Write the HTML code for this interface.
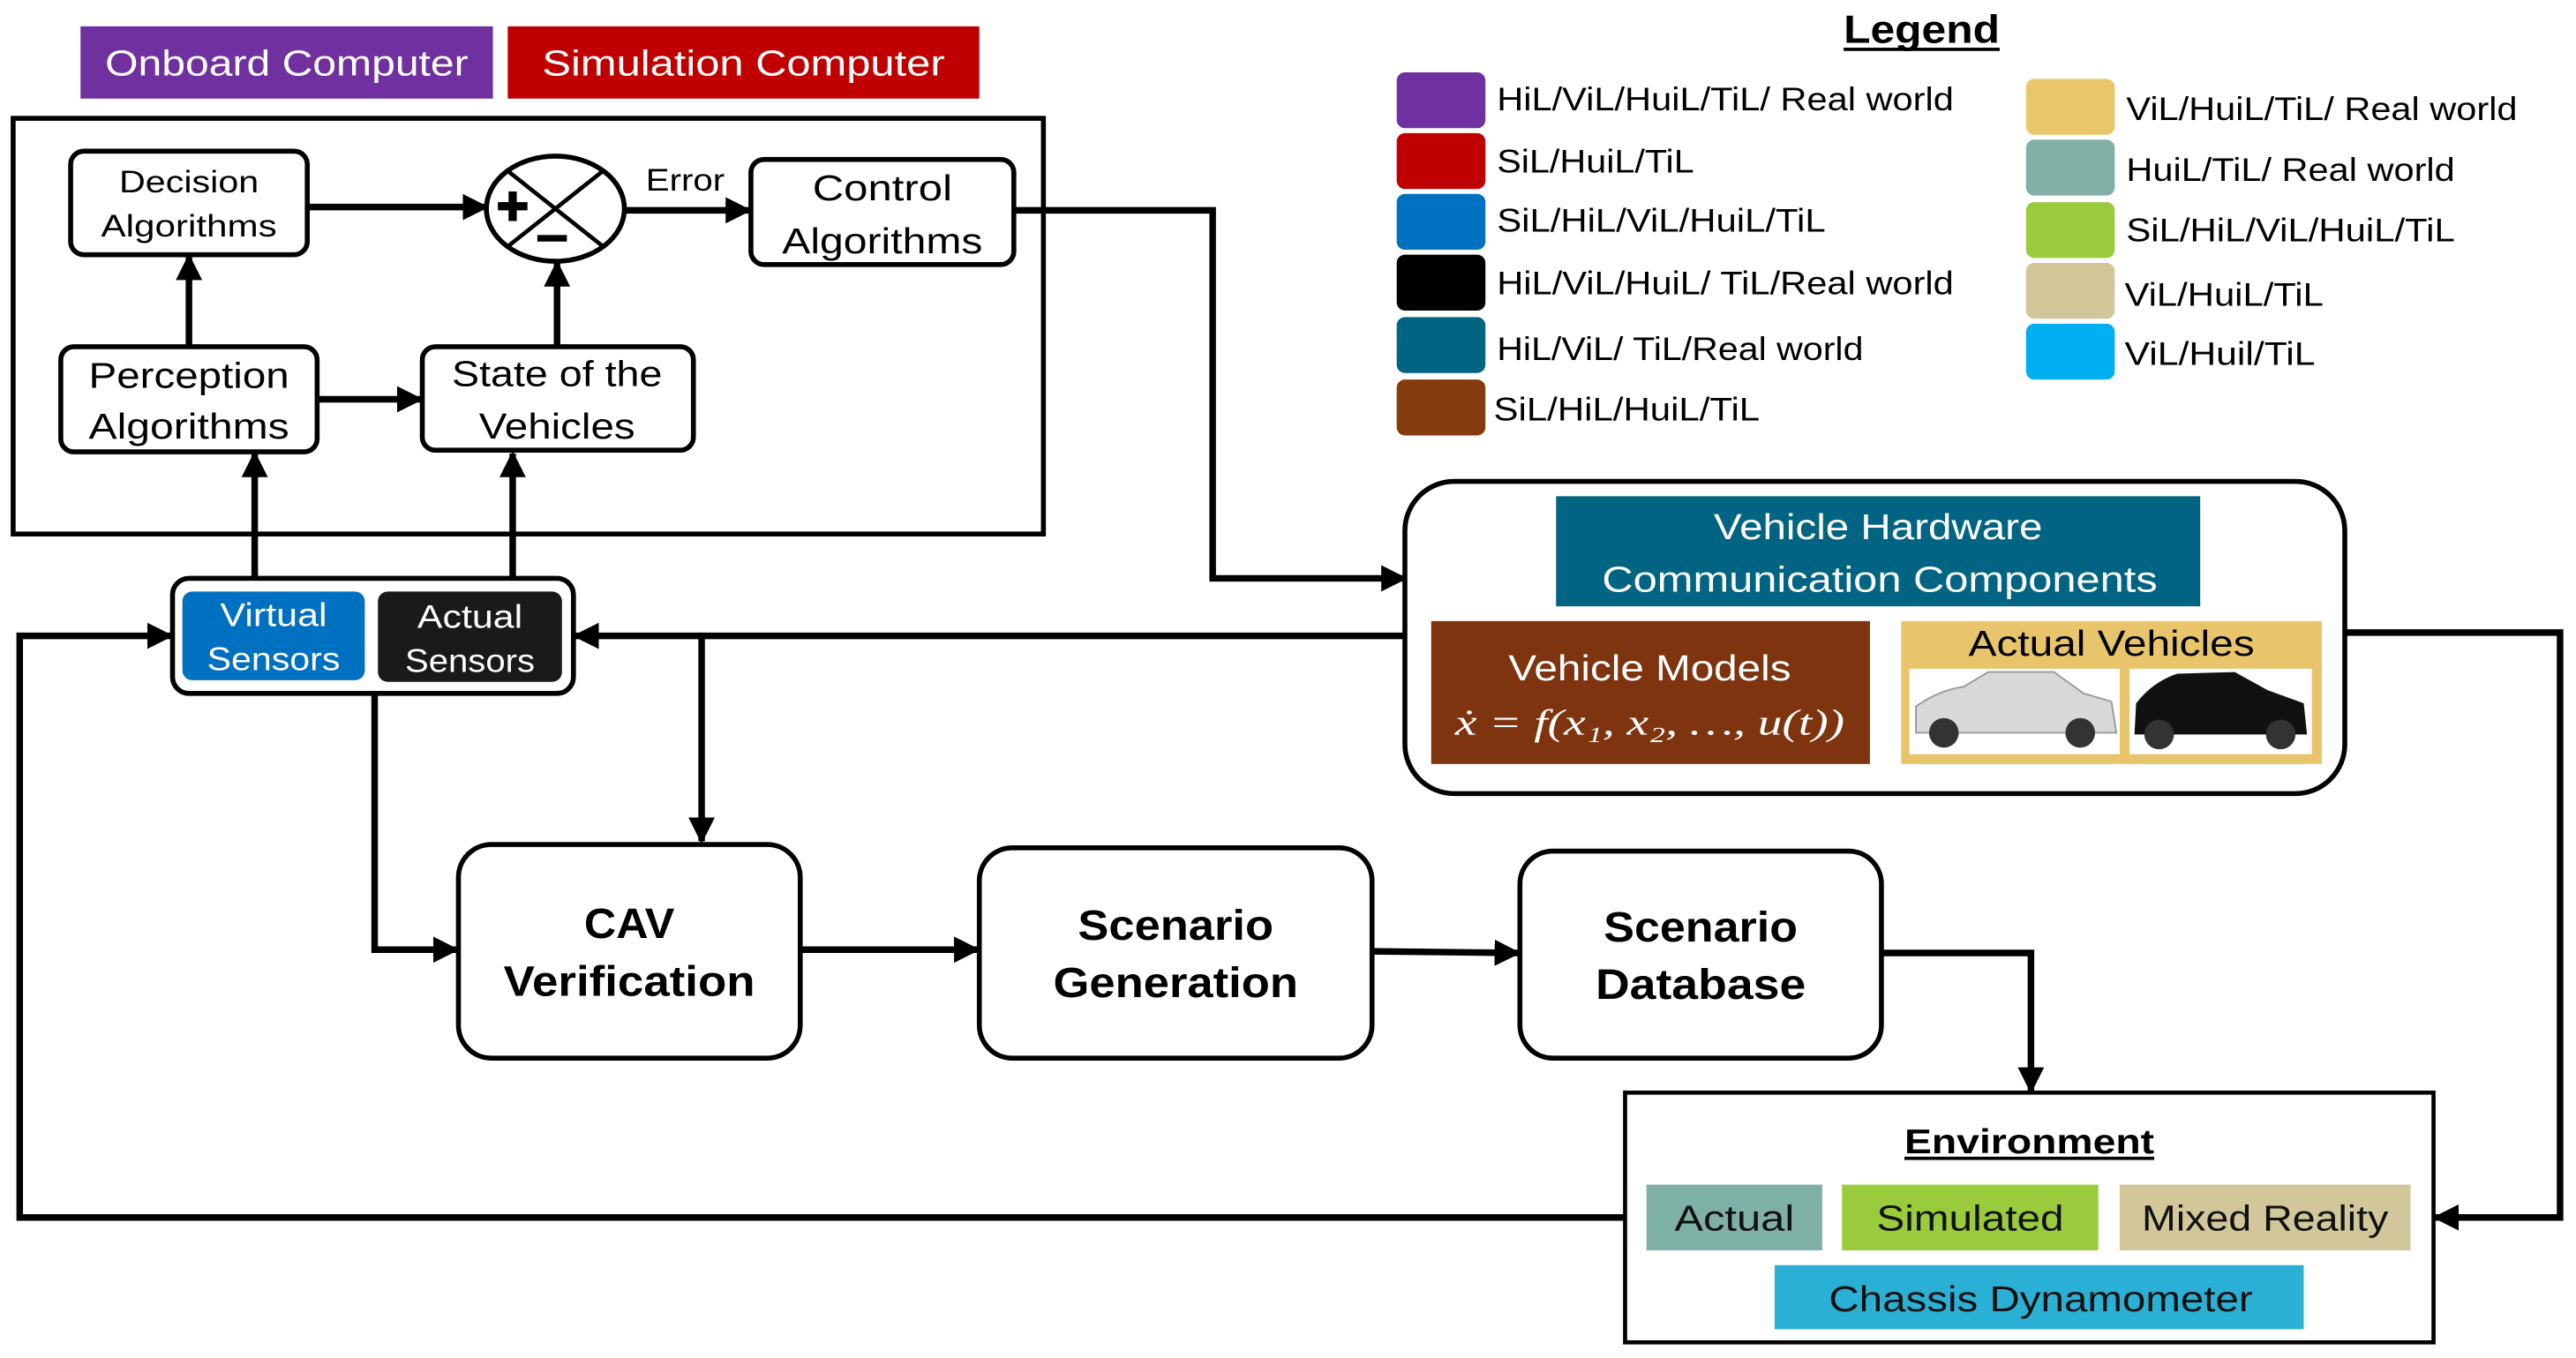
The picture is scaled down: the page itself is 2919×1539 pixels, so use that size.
<!DOCTYPE html>
<html><head><meta charset="utf-8"><style>html,body{margin:0;padding:0;background:#fff}svg{display:block}</style></head>
<body>
<svg width="2919" height="1539" viewBox="0 0 1567.7 826.5" xmlns="http://www.w3.org/2000/svg" font-family="Liberation Sans, sans-serif">
<defs>
<marker id="a" viewBox="0 0 10 10" refX="9" refY="5" markerWidth="4" markerHeight="4" orient="auto" markerUnits="strokeWidth"><path d="M0,0L10,5L0,10z" fill="#000"/></marker>
</defs>
<g font-size="22" fill="#fff" text-anchor="middle">
<rect x="49" y="16" width="251" height="44" fill="#7030A0"/>
<text x="174.5" y="46" textLength="221" lengthAdjust="spacingAndGlyphs">Onboard Computer</text>
<rect x="309" y="16" width="287" height="44" fill="#C00000"/>
<text x="452.5" y="46" textLength="245" lengthAdjust="spacingAndGlyphs">Simulation Computer</text>
</g>
<rect x="8" y="72" width="627" height="253" fill="none" stroke="#000" stroke-width="3"/>
<g fill="#fff" stroke="#000" stroke-width="3">
<rect x="43" y="92" width="144" height="63" rx="8"/>
<rect x="457" y="97" width="160" height="64" rx="8"/>
<rect x="37" y="211" width="156" height="64" rx="8"/>
<rect x="257" y="211" width="165" height="63" rx="8"/>
<ellipse cx="338" cy="127" rx="42" ry="32"/>
</g>
<g stroke="#000" stroke-width="2.5"><line x1="309" y1="104" x2="367" y2="150"/><line x1="367" y1="104" x2="309" y2="150"/></g>
<rect x="303" y="123" width="18" height="5" fill="#000"/><rect x="309.5" y="116.5" width="5" height="18" fill="#000"/>
<rect x="327" y="143" width="18" height="4" fill="#000"/>
<g font-size="19" text-anchor="middle" fill="#000">
<text x="115" y="117" textLength="85" lengthAdjust="spacingAndGlyphs">Decision</text>
<text x="115" y="144" textLength="107" lengthAdjust="spacingAndGlyphs">Algorithms</text>
<text x="417" y="116" textLength="48" lengthAdjust="spacingAndGlyphs">Error</text>
</g>
<g font-size="22" text-anchor="middle" fill="#000">
<text x="537" y="122" textLength="85" lengthAdjust="spacingAndGlyphs">Control</text>
<text x="537" y="154" textLength="122" lengthAdjust="spacingAndGlyphs">Algorithms</text>
<text x="115" y="236" textLength="122" lengthAdjust="spacingAndGlyphs">Perception</text>
<text x="115" y="267" textLength="122" lengthAdjust="spacingAndGlyphs">Algorithms</text>
<text x="339" y="235" textLength="128" lengthAdjust="spacingAndGlyphs">State of the</text>
<text x="339" y="267" textLength="95" lengthAdjust="spacingAndGlyphs">Vehicles</text>
</g>
<g stroke="#000" stroke-width="4" fill="none" marker-end="url(#a)">
<line x1="187" y1="126" x2="296" y2="126"/>
<line x1="381" y1="128" x2="456" y2="128"/>
<line x1="115" y1="211" x2="115" y2="156"/>
<line x1="339" y1="211" x2="339" y2="160"/>
<line x1="193" y1="243" x2="256" y2="243"/>
<line x1="155" y1="352" x2="155" y2="276"/>
<line x1="312" y1="352" x2="312" y2="276"/>
<polyline points="617,128 738,128 738,352 855,352"/>
<line x1="855" y1="387" x2="350" y2="387"/>
<line x1="427" y1="387" x2="427" y2="512"/>
<polyline points="989,741 12,741 12,387 104,387"/>
<polyline points="228,422 228,578 278,578"/>
<line x1="487" y1="578" x2="595" y2="578"/>
<line x1="835" y1="579" x2="924" y2="580"/>
<polyline points="1145,580 1236,580 1236,664"/>
<polyline points="1427,385 1558,385 1558,741 1482,741"/>
</g>
<rect x="105" y="352" width="244" height="70" rx="10" fill="#fff" stroke="#000" stroke-width="3"/>
<rect x="111" y="360" width="111" height="54" rx="6" fill="#0070C0"/>
<rect x="230" y="360" width="112" height="55" rx="6" fill="#1a1a1a"/>
<g font-size="20" fill="#fff" text-anchor="middle">
<text x="166.5" y="381" textLength="65" lengthAdjust="spacingAndGlyphs">Virtual</text>
<text x="166.5" y="408" textLength="81" lengthAdjust="spacingAndGlyphs">Sensors</text>
<text x="286" y="382" textLength="64" lengthAdjust="spacingAndGlyphs">Actual</text>
<text x="286" y="409" textLength="79" lengthAdjust="spacingAndGlyphs">Sensors</text>
</g>
<g fill="#fff" stroke="#000" stroke-width="3">
<rect x="279" y="514" width="208" height="130" rx="20"/>
<rect x="596" y="516" width="239" height="128" rx="20"/>
<rect x="925" y="518" width="220" height="126" rx="20"/>
</g>
<g font-size="26" font-weight="bold" text-anchor="middle" fill="#000">
<text x="383" y="571" textLength="55" lengthAdjust="spacingAndGlyphs">CAV</text>
<text x="383" y="606" textLength="153" lengthAdjust="spacingAndGlyphs">Verification</text>
<text x="715.5" y="572" textLength="119" lengthAdjust="spacingAndGlyphs">Scenario</text>
<text x="715.5" y="607" textLength="149" lengthAdjust="spacingAndGlyphs">Generation</text>
<text x="1035" y="573" textLength="118" lengthAdjust="spacingAndGlyphs">Scenario</text>
<text x="1035" y="608" textLength="128" lengthAdjust="spacingAndGlyphs">Database</text>
</g>
<rect x="989" y="665" width="492" height="152" fill="#fff" stroke="#000" stroke-width="2.5"/>
<text x="1235" y="702" font-size="21" font-weight="bold" text-anchor="middle" textLength="152" lengthAdjust="spacingAndGlyphs">Environment</text>
<rect x="1159" y="704" width="152" height="2" fill="#000"/>
<rect x="1002" y="721" width="107" height="40" fill="#7FB0A6"/>
<rect x="1121" y="721" width="156" height="40" fill="#9ACB3C"/>
<rect x="1290" y="721" width="177" height="40" fill="#D2C79A"/>
<rect x="1080" y="770" width="322" height="39" fill="#2BB0D5"/>
<g font-size="22" text-anchor="middle" fill="#111">
<text x="1055.5" y="749" textLength="73" lengthAdjust="spacingAndGlyphs">Actual</text>
<text x="1199" y="749" textLength="114" lengthAdjust="spacingAndGlyphs">Simulated</text>
<text x="1378.5" y="749" textLength="150" lengthAdjust="spacingAndGlyphs">Mixed Reality</text>
<text x="1242" y="798" textLength="258" lengthAdjust="spacingAndGlyphs">Chassis Dynamometer</text>
</g>
<rect x="855" y="293" width="572" height="190" rx="30" fill="#fff" stroke="#000" stroke-width="3"/>
<rect x="947" y="302" width="392" height="67" fill="#006482"/>
<rect x="871" y="378" width="267" height="87" fill="#7F3410"/>
<rect x="1157" y="378" width="256" height="87" fill="#E8C46A"/>
<g font-size="22" text-anchor="middle" fill="#fff">
<text x="1143" y="328" textLength="200" lengthAdjust="spacingAndGlyphs">Vehicle Hardware</text>
<text x="1144" y="360" textLength="338" lengthAdjust="spacingAndGlyphs">Communication Components</text>
<text x="1004" y="414" textLength="172" lengthAdjust="spacingAndGlyphs">Vehicle Models</text>
<text x="1004" y="447" font-family="Liberation Serif, serif" font-style="italic" textLength="237" lengthAdjust="spacingAndGlyphs">ẋ = f(x₁, x₂, …, u(t))</text>
<text x="1285" y="399" fill="#000" textLength="174" lengthAdjust="spacingAndGlyphs">Actual Vehicles</text>
</g>
<rect x="1162" y="407" width="128" height="52" fill="#fff"/>
<rect x="1296" y="407" width="111" height="52" fill="#fff"/>
<path d="M1166,446 L1166,430 Q1180,420 1195,418 L1210,409 L1250,409 L1268,422 L1285,427 L1288,446 Z" fill="#d8d8d8" stroke="#999"/>
<circle cx="1183" cy="446" r="9" fill="#333"/><circle cx="1266" cy="446" r="9" fill="#333"/>
<path d="M1299,447 L1300,428 Q1310,415 1325,410 L1360,409 L1380,420 L1402,428 L1404,447 Z" fill="#111"/>
<circle cx="1314" cy="447" r="9" fill="#333"/><circle cx="1388" cy="447" r="9" fill="#333"/>
<text x="1169.5" y="26" font-size="24" font-weight="bold" text-anchor="middle" textLength="95" lengthAdjust="spacingAndGlyphs">Legend</text>
<rect x="1122" y="29" width="95" height="2" fill="#000"/>
<g>
<rect x="850" y="44" width="54" height="34" rx="5" fill="#7030A0"/>
<rect x="850" y="81" width="54" height="34" rx="5" fill="#C00000"/>
<rect x="850" y="118" width="54" height="34" rx="5" fill="#0070C0"/>
<rect x="850" y="155" width="54" height="34" rx="5" fill="#000"/>
<rect x="850" y="193" width="54" height="34" rx="5" fill="#006482"/>
<rect x="850" y="231" width="54" height="34" rx="5" fill="#843C0C"/>
<rect x="1233" y="48" width="54" height="34" rx="5" fill="#EAC66B"/>
<rect x="1233" y="85" width="54" height="34" rx="5" fill="#82B0A6"/>
<rect x="1233" y="123" width="54" height="34" rx="5" fill="#9ACB3C"/>
<rect x="1233" y="160" width="54" height="34" rx="5" fill="#D0C69A"/>
<rect x="1233" y="197" width="54" height="34" rx="5" fill="#00B0F0"/>
</g>
<g font-size="20" fill="#000">
<text x="911" y="67" textLength="278" lengthAdjust="spacingAndGlyphs">HiL/ViL/HuiL/TiL/ Real world</text>
<text x="911" y="105" textLength="120" lengthAdjust="spacingAndGlyphs">SiL/HuiL/TiL</text>
<text x="911" y="141" textLength="200" lengthAdjust="spacingAndGlyphs">SiL/HiL/ViL/HuiL/TiL</text>
<text x="911" y="179" textLength="278" lengthAdjust="spacingAndGlyphs">HiL/ViL/HuiL/ TiL/Real world</text>
<text x="911" y="219" textLength="223" lengthAdjust="spacingAndGlyphs">HiL/ViL/ TiL/Real world</text>
<text x="909" y="256" textLength="162" lengthAdjust="spacingAndGlyphs">SiL/HiL/HuiL/TiL</text>
<text x="1294" y="73" textLength="238" lengthAdjust="spacingAndGlyphs">ViL/HuiL/TiL/ Real world</text>
<text x="1294" y="110" textLength="200" lengthAdjust="spacingAndGlyphs">HuiL/TiL/ Real world</text>
<text x="1294" y="147" textLength="200" lengthAdjust="spacingAndGlyphs">SiL/HiL/ViL/HuiL/TiL</text>
<text x="1293" y="186" textLength="121" lengthAdjust="spacingAndGlyphs">ViL/HuiL/TiL</text>
<text x="1293" y="222" textLength="116" lengthAdjust="spacingAndGlyphs">ViL/Huil/TiL</text>
</g>
</svg>
</body></html>
